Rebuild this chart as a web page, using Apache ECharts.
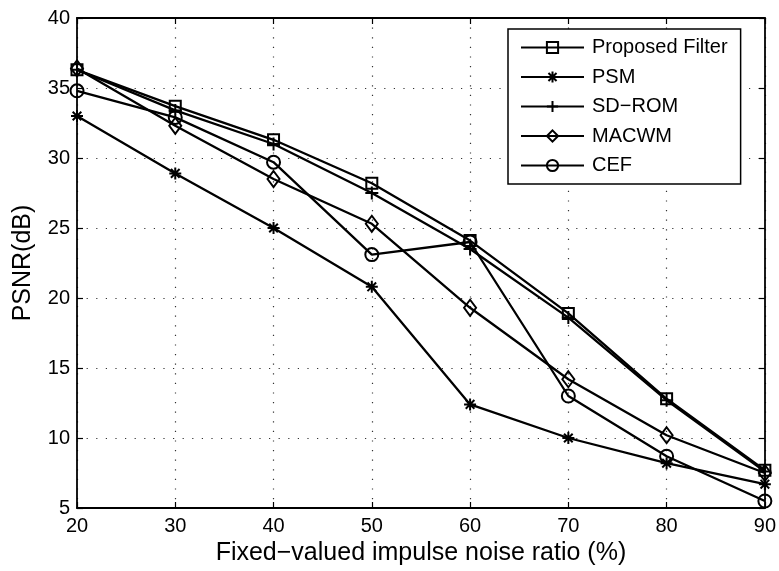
<!DOCTYPE html>
<html>
<head>
<meta charset="utf-8">
<script src="https://cdn.jsdelivr.net/npm/echarts@6/dist/echarts.min.js"></script>
<style>html,body{margin:0;padding:0;background:#fff;}#c{width:779px;height:571px;}</style>
</head>
<body>
<div id="c"></div>
<script>
var noiseRatio = [20, 30, 40, 50, 60, 70, 80, 90];
var proposed = [36.3, 33.7, 31.3, 28.2, 24.1, 18.9, 12.8, 7.7];
var psm      = [33.0, 28.9, 25.0, 20.8, 12.4, 10.0, 8.2, 6.7];
var sdrom    = [36.3, 33.4, 31.0, 27.5, 23.5, 18.6, 12.7, 7.6];
var macwm    = [36.4, 32.3, 28.5, 25.3, 19.3, 14.2, 10.2, 7.5];
var cef      = [34.8, 32.9, 29.7, 23.1, 24.0, 13.0, 8.7, 5.5];
var seriesNames = ['Proposed Filter', 'PSM', 'SD\u2212ROM', 'MACWM', 'CEF'];
var xTicks = [20, 30, 40, 50, 60, 70, 80, 90];
var yTicks = [5, 10, 15, 20, 25, 30, 35, 40];

var FONT = '"Liberation Sans", Arial, Helvetica, sans-serif';
var STAR = 'path://M0,-5L0,5M-5,0L5,0M-3.6,-3.6L3.6,3.6M-3.6,3.6L3.6,-3.6';
var PLUS = 'path://M0,-5L0,5M-5,0L5,0';

function pairs(ys) { return noiseRatio.map(function (x, i) { return [x, ys[i]]; }); }

function mk(name, ys, symbol, size) {
  return {
    name: name, type: 'line', data: pairs(ys),
    symbol: symbol, symbolSize: size, showAllSymbol: true,
    lineStyle: { color: '#000', width: 2.3 },
    itemStyle: { color: 'transparent', borderColor: '#000', borderWidth: 2 },
    emphasis: { disabled: true }, animation: false
  };
}

var chart = echarts.init(document.getElementById('c'));
chart.setOption({
  backgroundColor: '#fff',
  animation: false,
  grid: { left: 77, right: 14, top: 18, bottom: 63, containLabel: false },
  legend: {
    orient: 'vertical', left: 508, top: 29,
    padding: [8.5, 13, 8.5, 12],
    backgroundColor: '#fff', borderColor: '#000', borderWidth: 1.5, borderRadius: 0,
    itemWidth: 63, itemHeight: 14, itemGap: 9.5,
    textStyle: { fontFamily: FONT, fontSize: 20, color: '#000', lineHeight: 20, padding: [0, 0, 0, 3] },
    data: seriesNames
  },
  xAxis: [{
    type: 'value', min: 20, max: 90, interval: 10,
    name: 'Fixed\u2212valued impulse noise ratio (%)', nameLocation: 'middle', nameGap: 32,
    nameTextStyle: { fontFamily: FONT, fontSize: 25, color: '#000' },
    axisLine: { show: true, onZero: false, lineStyle: { color: '#000', width: 1.8 } },
    axisTick: { show: true, inside: true, length: 6, lineStyle: { color: '#000', width: 1.2 } },
    axisLabel: { fontFamily: FONT, fontSize: 20, color: '#000', margin: 8,
      formatter: function (v) { return xTicks.indexOf(v) >= 0 ? String(v) : ''; } },
    splitLine: { show: true, lineStyle: { color: '#333', width: 1.2, type: [1.2, 8.4] } }
  }, {
    type: 'value', position: 'top', min: 20, max: 90, interval: 10,
    axisLine: { show: true, onZero: false, lineStyle: { color: '#000', width: 1.8 } },
    axisTick: { show: true, inside: true, length: 6, lineStyle: { color: '#000', width: 1.2 } },
    axisLabel: { show: false }, splitLine: { show: false }
  }],
  yAxis: [{
    type: 'value', min: 5, max: 40, interval: 5,
    name: 'PSNR(dB)', nameLocation: 'middle', nameGap: 41, nameRotate: 90,
    nameTextStyle: { fontFamily: FONT, fontSize: 25, color: '#000' },
    axisLine: { show: true, onZero: false, lineStyle: { color: '#000', width: 1.8 } },
    axisTick: { show: true, inside: true, length: 6, lineStyle: { color: '#000', width: 1.2 } },
    axisLabel: { fontFamily: FONT, fontSize: 20, color: '#000', margin: 7,
      formatter: function (v) { return yTicks.indexOf(v) >= 0 ? String(v) : ''; } },
    splitLine: { show: true, lineStyle: { color: '#333', width: 1.2, type: [1.2, 8.4] } }
  }, {
    type: 'value', position: 'right', min: 5, max: 40, interval: 5,
    axisLine: { show: true, onZero: false, lineStyle: { color: '#000', width: 1.8 } },
    axisTick: { show: true, inside: true, length: 6, lineStyle: { color: '#000', width: 1.2 } },
    axisLabel: { show: false }, splitLine: { show: false }
  }],
  series: [
    mk(seriesNames[0], proposed, 'rect', 11),
    mk(seriesNames[1], psm, STAR, 12),
    mk(seriesNames[2], sdrom, PLUS, 13),
    mk(seriesNames[3], macwm, 'diamond', [12, 16]),
    mk(seriesNames[4], cef, 'circle', 13)
  ]
});
</script>
</body>
</html>
